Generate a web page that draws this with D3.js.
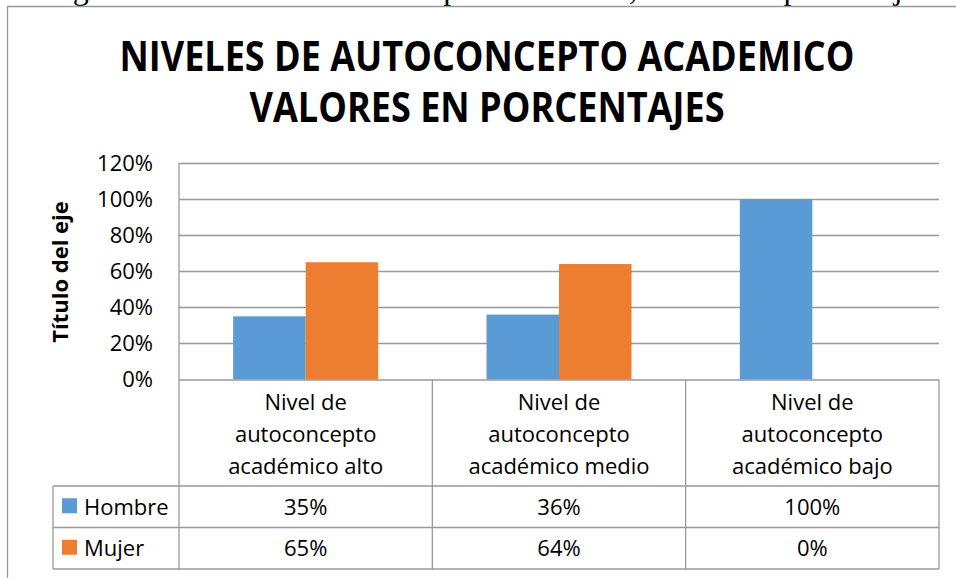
<!DOCTYPE html>
<html>
<head>
<meta charset="utf-8">
<script src="https://cdn.jsdelivr.net/npm/d3@7"></script>
<style>
  body { margin: 0; background: #fff; }
  svg { display: block; }
  text { font-family: "Open Sans", sans-serif; fill: #000; }
</style>
</head>
<body>
<svg id="chart" width="956" height="578"></svg>
<script>
// data
const categories = [
    ["Nivel de", "autoconcepto", "académico alto"],
    ["Nivel de", "autoconcepto", "académico medio"],
    ["Nivel de", "autoconcepto", "académico bajo"]
];
const seriesNames = ["Hombre", "Mujer"];
const hombre = [0.35, 0.36, 1.00];
const mujer = [0.65, 0.64, 0.00];
const yTicks = [0, 0.2, 0.4, 0.6, 0.8, 1.0, 1.2];
const titleLines = ["NIVELES DE AUTOCONCEPTO ACADEMICO", "VALORES EN PORCENTAJES"];
const caption = "Figura 3. Niveles de autoconcepto académico, valores en porcentajes";

const colors = { Hombre: "#5b9bd5", Mujer: "#ed7d31" };
const lineColor = "#999";

const svg = d3.select("#chart");
const catKeys = categories.map(c => c.join(" "));
const values = { Hombre: hombre, Mujer: mujer };

// caption line of the document, mostly cut off at the top
svg.append("text")
    .attr("x", 46).attr("y", -1.5)
    .style("font-family", "'Liberation Serif', serif")
    .style("font-size", "32px")
    .text(caption);

// chart frame (only left and top edges are in view)
svg.append("path")
    .attr("d", "M7.5,578V6.5H956")
    .attr("fill", "none")
    .attr("stroke", lineColor)
    .attr("stroke-width", 1.3);

// title
const titleWidths = [735, 475];
titleLines.forEach((t, i) => {
    svg.append("text")
        .attr("x", 487).attr("y", 71 + i * 51)
        .attr("text-anchor", "middle")
        .attr("textLength", titleWidths[i])
        .attr("lengthAdjust", "spacingAndGlyphs")
        .style("font-size", "41px")
        .style("font-weight", "700")
        .text(t);
});

// scales
const plotLeft = 179, plotRight = 939, plotTop = 163, base = 379.5;
const x0 = d3.scaleBand().domain(catKeys).range([plotLeft, plotRight]);
const x1 = d3.scaleBand().domain(seriesNames).range([0, x0.bandwidth()])
    .paddingInner(0).paddingOuter(0.747);
const y = d3.scaleLinear().domain([0, 1.2]).range([base, plotTop]);

// gridlines
svg.append("g").selectAll("line")
    .data(yTicks.filter(d => d > 0))
    .join("line")
    .attr("x1", plotLeft).attr("x2", plotRight)
    .attr("y1", d => Math.round(y(d)) + 0.5)
    .attr("y2", d => Math.round(y(d)) + 0.5)
    .attr("stroke", lineColor)
    .attr("stroke-width", 1.3);

// y axis labels
const yAxis = svg.append("g")
    .attr("transform", `translate(${plotLeft},0)`)
    .call(d3.axisLeft(y).tickValues(yTicks).tickFormat(d3.format(".0%")).tickSize(0).tickPadding(26));
yAxis.select(".domain").remove();
yAxis.selectAll("text")
    .style("font-family", "'Open Sans', sans-serif")
    .style("font-size", "22px")
    .attr("fill", "#000");

// axis title
svg.append("text")
    .attr("transform", "translate(68,272) rotate(-90)")
    .attr("text-anchor", "middle")
    .style("font-size", "22px")
    .style("font-weight", "700")
    .text("Título del eje");

// bars
const groups = svg.append("g").selectAll("g")
    .data(catKeys)
    .join("g")
    .attr("transform", d => `translate(${x0(d)},0)`);
groups.selectAll("rect")
    .data((d, i) => seriesNames.map(s => ({ s, v: values[s][i] })))
    .join("rect")
    .attr("x", d => x1(d.s))
    .attr("width", x1.bandwidth())
    .attr("y", d => y(d.v))
    .attr("height", d => base - y(d.v))
    .attr("fill", d => colors[d.s]);

// data table
const rowTop = 486, rowH = 41.5, tableLeft = 53;
const rows = seriesNames.map((s, i) => rowTop + i * rowH);
const grid = svg.append("g")
    .attr("fill", "none")
    .attr("stroke", lineColor)
    .attr("stroke-width", 1.3);
// axis line / table top
grid.append("line").attr("x1", plotLeft).attr("x2", plotRight).attr("y1", base + 0.5).attr("y2", base + 0.5);
// row lines
[rowTop, rowTop + rowH, rowTop + 2 * rowH].forEach(yy => {
    grid.append("line").attr("x1", tableLeft).attr("x2", plotRight).attr("y1", yy).attr("y2", yy);
});
// vertical lines
grid.append("line").attr("x1", plotLeft).attr("x2", plotLeft).attr("y1", plotTop).attr("y2", rowTop + 2 * rowH);
x0.domain().forEach(k => {
    const xx = x0(k) + x0.bandwidth();
    grid.append("line").attr("x1", xx).attr("x2", xx).attr("y1", base).attr("y2", rowTop + 2 * rowH);
});
grid.append("line").attr("x1", tableLeft).attr("x2", tableLeft).attr("y1", rowTop).attr("y2", rowTop + 2 * rowH);

// category headers
categories.forEach((lines, i) => {
    const cx = x0(catKeys[i]) + x0.bandwidth() / 2;
    lines.forEach((ln, j) => {
        svg.append("text")
            .attr("x", cx).attr("y", 410 + j * 32)
            .attr("text-anchor", "middle")
            .style("font-size", "22px")
            .text(ln);
    });
});

// legend cells + values
seriesNames.forEach((s, r) => {
    const cy = rows[r] + rowH / 2;
    svg.append("rect")
        .attr("x", 62).attr("y", cy - 8.5)
        .attr("width", 15).attr("height", 15)
        .attr("fill", colors[s]);
    svg.append("text")
        .attr("x", 84).attr("y", cy + 8)
        .style("font-size", "22px")
        .text(s);
    values[s].forEach((v, i) => {
        svg.append("text")
            .attr("x", x0(catKeys[i]) + x0.bandwidth() / 2)
            .attr("y", cy + 8)
            .attr("text-anchor", "middle")
            .style("font-size", "22px")
            .text(d3.format(".0%")(v));
    });
});
</script>
</body>
</html>
